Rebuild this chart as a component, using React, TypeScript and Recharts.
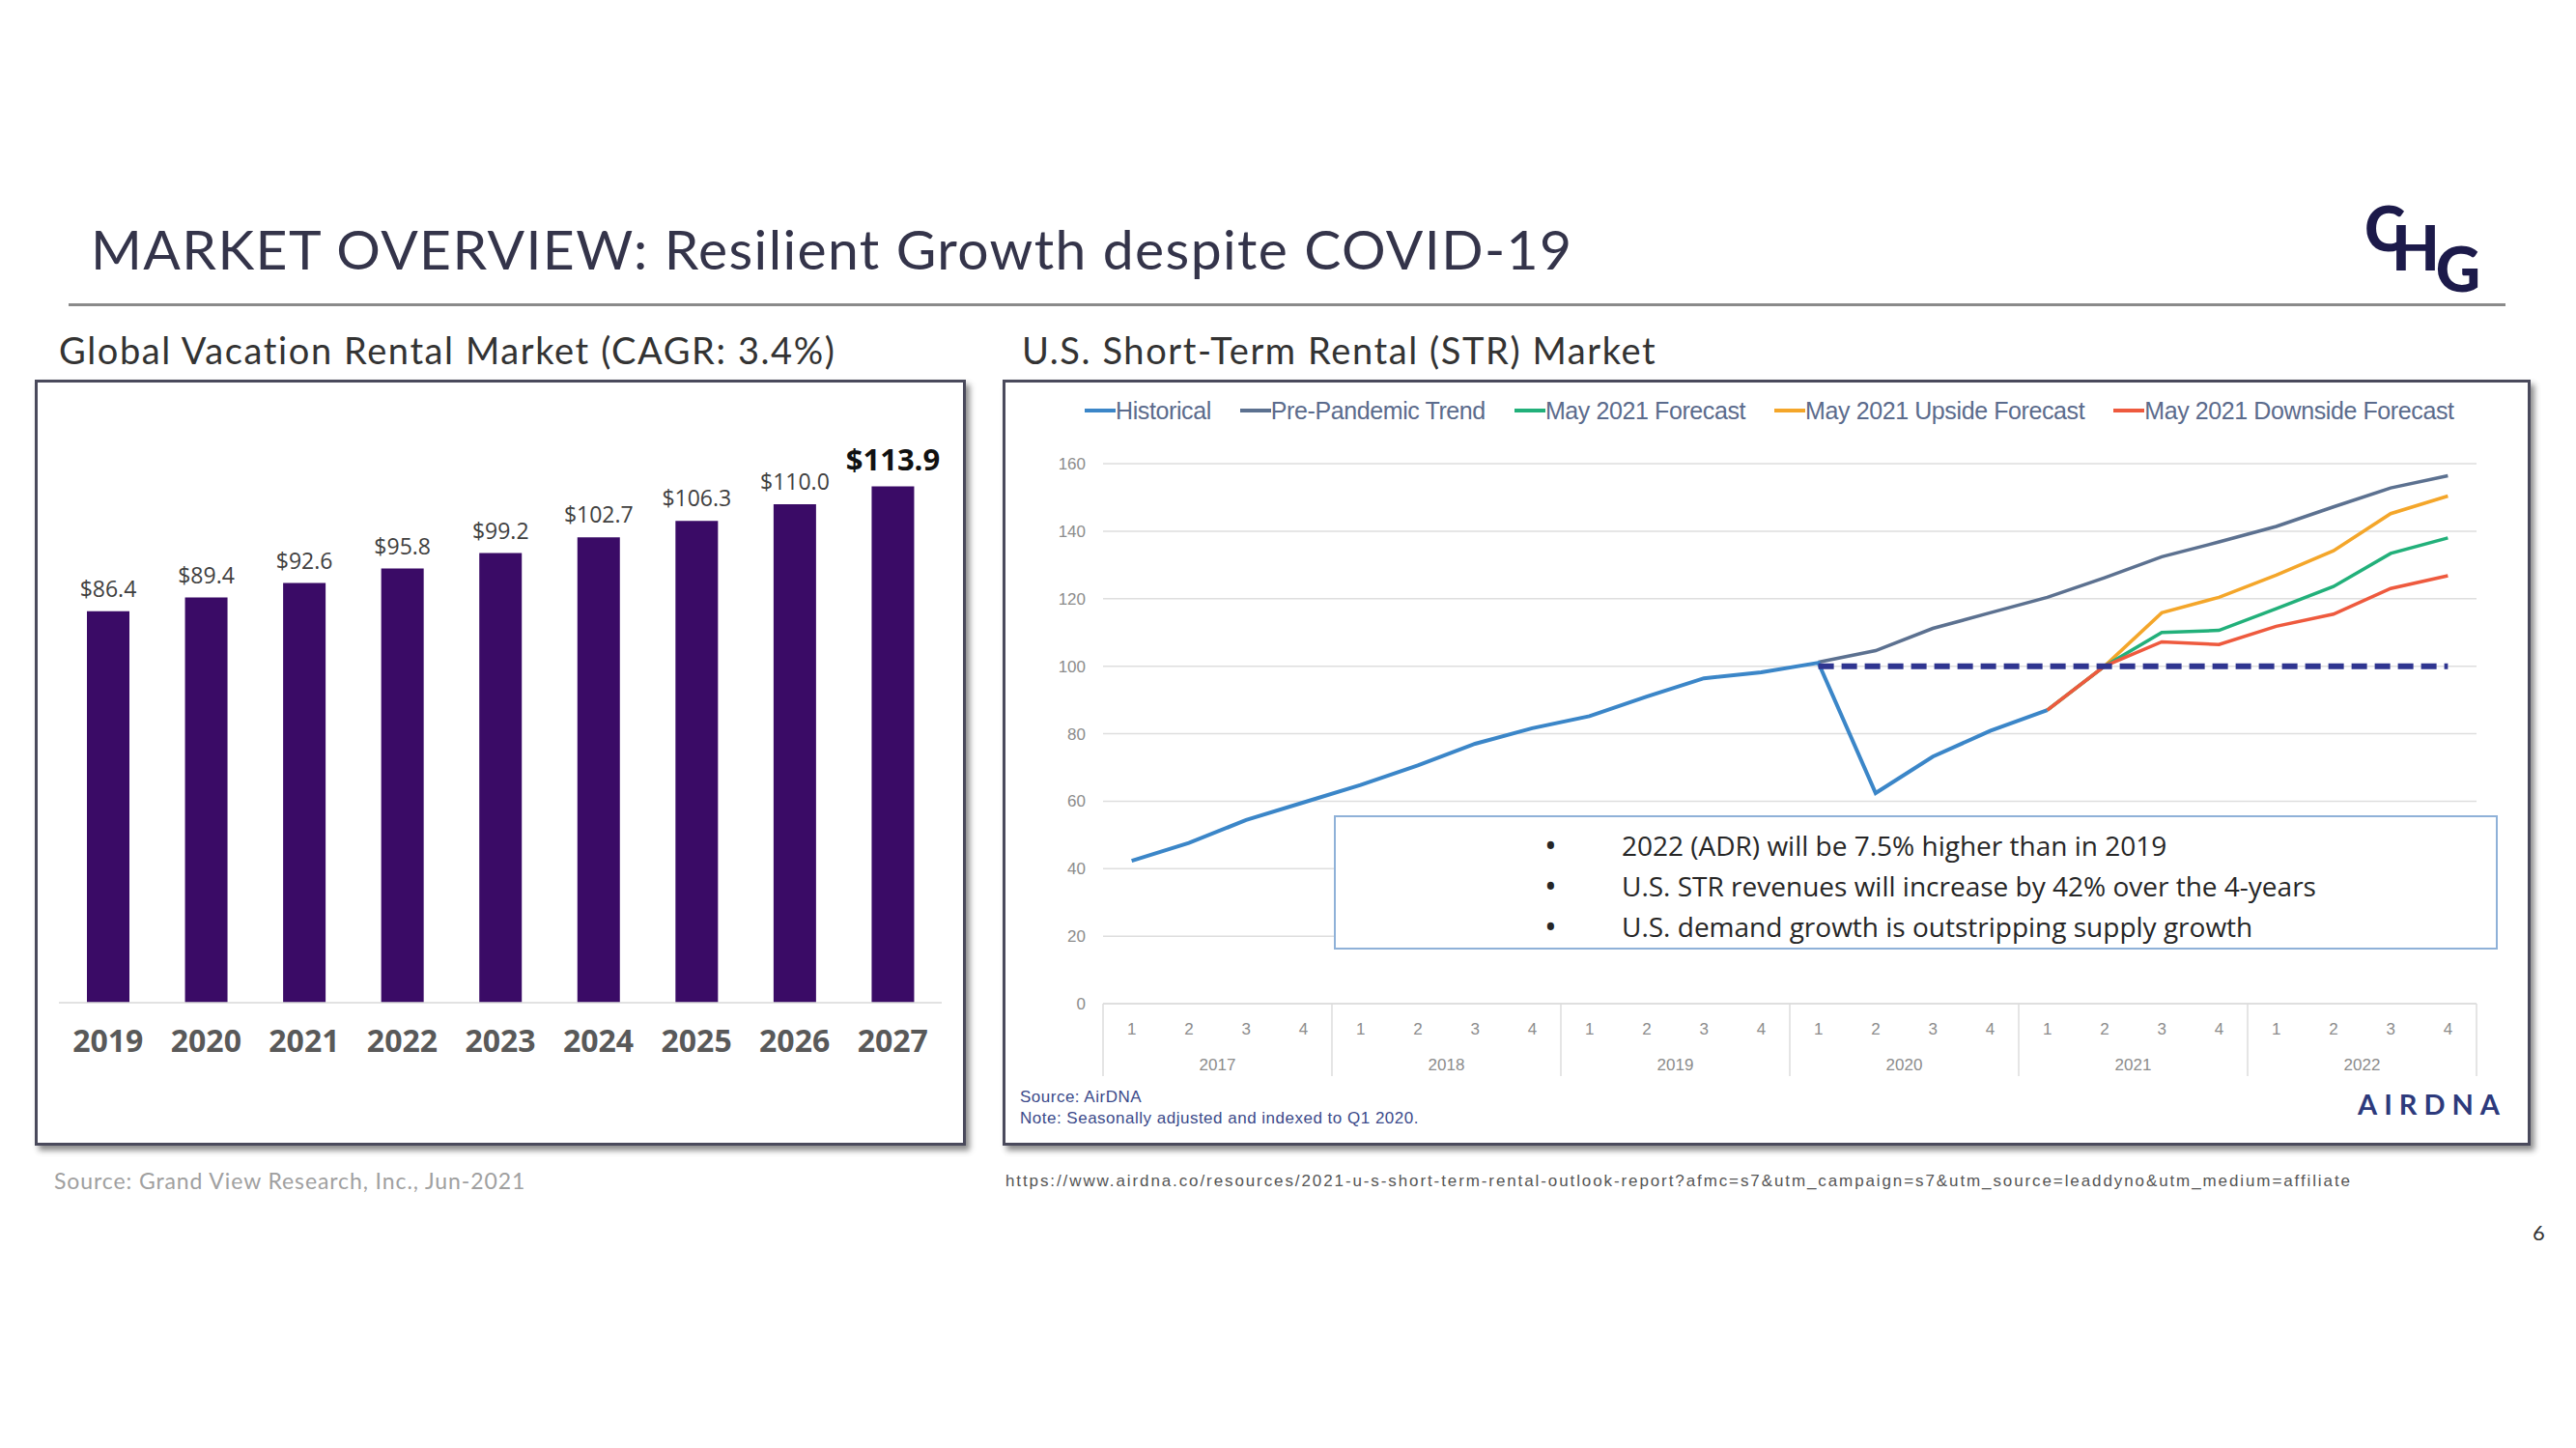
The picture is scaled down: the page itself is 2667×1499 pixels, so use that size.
import React from "react";
import {
  BarChart,
  Bar,
  XAxis,
  YAxis,
  LabelList,
  LineChart,
  Line,
  CartesianGrid,
  ReferenceLine,
} from "recharts";

// left chart: global vacation rental market ($bn)
const barYears = ["2019", "2020", "2021", "2022", "2023", "2024", "2025", "2026", "2027"];
const marketSize = [86.4, 89.4, 92.6, 95.8, 99.2, 102.7, 106.3, 110.0, 113.9];

// right chart: US STR index (Q1 2020 = 100)
const strYears = ["2017", "2018", "2019", "2020", "2021", "2022"];
const quarterNums = ["1", "2", "3", "4"];
const historical = [
  42.3, 47.6, 54.4, 59.6, 64.8, 70.6, 77.0, 81.6, 85.2, 91.0, 96.4, 98.2,
  101.0, 62.4, 73.2, 80.8, 87.0, null, null, null, null, null, null, null,
];
const prePandemic = [
  null, null, null, null, null, null, null, null, null, null, null, null,
  101.2, 104.6, 111.2, 115.8, 120.4, 126.2, 132.4, 136.8, 141.4, 147.2, 152.8, 156.4,
];
const mayForecast = [
  null, null, null, null, null, null, null, null, null, null, null, null,
  null, null, null, null, 87.0, 100.0, 110.0, 110.6, 117.0, 123.6, 133.4, 138.0,
];
const upsideForecast = [
  null, null, null, null, null, null, null, null, null, null, null, null,
  null, null, null, null, 87.0, 100.0, 115.8, 120.4, 127.0, 134.2, 145.2, 150.4,
];
const downsideForecast = [
  null, null, null, null, null, null, null, null, null, null, null, null,
  null, null, null, null, 87.0, 100.0, 107.2, 106.4, 111.8, 115.4, 123.0, 126.8,
];
const yTicks = [0, 20, 40, 60, 80, 100, 120, 140, 160];
const baselineIndex = 100;

const bullets = [
  "2022 (ADR) will be 7.5% higher than in 2019",
  "U.S. STR revenues will increase by 42% over the 4-years",
  "U.S. demand growth is outstripping supply growth",
];

const strSeries = [
  { key: "historical", name: "Historical", color: "#3b86c8", values: historical },
  { key: "prePandemic", name: "Pre-Pandemic Trend", color: "#5c7190", values: prePandemic },
  { key: "mayForecast", name: "May 2021 Forecast", color: "#22b07a", values: mayForecast },
  { key: "upside", name: "May 2021 Upside Forecast", color: "#f4a62a", values: upsideForecast },
  { key: "downside", name: "May 2021 Downside Forecast", color: "#ee5a3e", values: downsideForecast },
];
// draw order so the red downside sits on top where the forecasts overlap
const drawOrder = ["prePandemic", "historical", "upside", "mayForecast", "downside"];

const barData = barYears.map((year, i) => ({ year, value: marketSize[i] }));

const strData = strYears.flatMap((yr, yi) =>
  quarterNums.map((q, qi) => {
    const i = yi * 4 + qi;
    // eslint-disable-next-line @typescript-eslint/no-explicit-any
    const row: any = { period: `${yr} Q${q}`, year: yr };
    strSeries.forEach((s) => (row[s.key] = s.values[i]));
    return row;
  })
);

// right chart geometry
const LC_W = 1560;
const LC_H = 760;
const LC_MARGIN = { top: 80, right: 41, left: 37, bottom: 36 };
const Y_AXIS_W = 60;
const PLOT_W = LC_W - LC_MARGIN.left - LC_MARGIN.right - Y_AXIS_W;
const YEAR_BAND = PLOT_W / strYears.length;
const Q_HALF = PLOT_W / strData.length / 2; // half a quarter slot, line charts use point scale

// eslint-disable-next-line @typescript-eslint/no-explicit-any
function BarValueLabel(props: any) {
  const { x, y, width, value } = props;
  const isLast = value === marketSize[marketSize.length - 1];
  return (
    <text
      x={x + width / 2}
      y={y - (isLast ? 17 : 15)}
      textAnchor="middle"
      fontFamily="Open Sans"
      fontSize={isLast ? 31 : 23}
      fontWeight={isLast ? 700 : 400}
      fill={isLast ? "#111" : "#404040"}
    >
      {`$${Number(value).toFixed(1)}`}
    </text>
  );
}

// year labels + separators under the quarter row
// eslint-disable-next-line @typescript-eslint/no-explicit-any
function YearTick(props: any) {
  const { x, y, payload, index } = props;
  const half = YEAR_BAND / 2;
  return (
    <g>
      <line x1={x - half} x2={x - half} y1={y - 48} y2={y + 27} stroke="#dcdcdc" strokeWidth={1.5} />
      {index === strYears.length - 1 && (
        <line x1={x + half} x2={x + half} y1={y - 48} y2={y + 27} stroke="#dcdcdc" strokeWidth={1.5} />
      )}
      <text
        x={x}
        y={y + 15}
        textAnchor="middle"
        dominantBaseline="central"
        fontFamily="Liberation Sans"
        fontSize={17}
        fill="#8c8c8c"
      >
        {payload.value}
      </text>
    </g>
  );
}

const frame: React.CSSProperties = {
  position: "absolute",
  top: 393,
  height: 793,
  boxSizing: "border-box",
  border: "3px solid #4a4a5c",
  boxShadow: "4px 5px 6px rgba(0,0,0,0.45)",
  background: "#fff",
};

export default function App() {
  return (
    <div
      style={{
        position: "relative",
        width: 2667,
        height: 1499,
        background: "#fff",
        fontFamily: "Lato",
        overflow: "hidden",
      }}
    >
      <style>{"body{margin:0}"}</style>

      {/* header */}
      <div style={{ position: "absolute", left: 94, top: 229, fontSize: 57, letterSpacing: 1.4, lineHeight: 1, color: "#34344a", whiteSpace: "nowrap" }}>
        MARKET OVERVIEW: Resilient Growth despite COVID-19
      </div>
      {/* CHG monogram */}
      <svg style={{ position: "absolute", left: 2430, top: 190, overflow: "visible" }} width={180} height={130}>
        <text x={18} y={70} fontFamily="Lato" fontWeight={900} fontSize={64} fill="#1c1a4a">
          C<tspan dx={-14} dy={20}>H</tspan><tspan dx={-4} dy={22}>G</tspan>
        </text>
      </svg>
      <div style={{ position: "absolute", left: 71, top: 314, width: 2523, height: 3, background: "#8a8a8a" }} />

      <div style={{ position: "absolute", left: 61, top: 343, fontSize: 38, letterSpacing: 1.6, lineHeight: 1, color: "#333", whiteSpace: "nowrap" }}>
        Global Vacation Rental Market (CAGR: 3.4%)
      </div>
      <div style={{ position: "absolute", left: 1058, top: 343, fontSize: 38, letterSpacing: 1.6, lineHeight: 1, color: "#333", whiteSpace: "nowrap" }}>
        U.S. Short-Term Rental (STR) Market
      </div>

      {/* left panel */}
      <div style={{ ...frame, left: 36, width: 964 }} />
      <div style={{ position: "absolute", left: 40, top: 400 }}>
        <BarChart
          width={950}
          height={720}
          data={barData}
          margin={{ top: 75, right: 15, left: 21, bottom: 20 }}
          barSize={44}
        >
          <YAxis hide domain={[0, 120]} />
          <XAxis
            dataKey="year"
            axisLine={{ stroke: "#d9d9d9", strokeWidth: 1.5 }}
            tickLine={false}
            height={62}
            tickMargin={22}
            tick={{ fontFamily: "Open Sans", fontSize: 32, fontWeight: 700, fill: "#595959" }}
          />
          <Bar dataKey="value" fill="#3a0b66" isAnimationActive={false}>
            <LabelList dataKey="value" content={<BarValueLabel />} />
          </Bar>
        </BarChart>
      </div>
      <div style={{ position: "absolute", left: 56, top: 1211, fontSize: 23, letterSpacing: 0.9, lineHeight: 1, color: "#a0a0a0", whiteSpace: "nowrap" }}>
        Source: Grand View Research, Inc., Jun-2021
      </div>

      {/* right panel */}
      <div style={{ ...frame, left: 1038, width: 1582 }} />

      {/* legend */}
      <div
        style={{
          position: "absolute",
          left: 1123,
          top: 411,
          display: "flex",
          gap: 30,
          fontFamily: "Liberation Sans",
          fontSize: 25,
          lineHeight: "28px",
          color: "#5b6b8c",
          whiteSpace: "nowrap",
        }}
      >
        {strSeries.map((s) => (
          <div key={s.key} style={{ display: "flex", alignItems: "center" }}>
            <span style={{ display: "inline-block", width: 32, height: 4, background: s.color }} />
            <span style={{ letterSpacing: -0.4 }}>{s.name}</span>
          </div>
        ))}
      </div>

      <div style={{ position: "absolute", left: 1045, top: 400 }}>
        <LineChart width={LC_W} height={LC_H} data={strData} margin={LC_MARGIN}>
          <CartesianGrid vertical={false} stroke="#dedede" strokeWidth={1.5} />
          <YAxis
            width={Y_AXIS_W}
            domain={[0, 160]}
            ticks={yTicks}
            axisLine={false}
            tickLine={false}
            tickMargin={12}
            tick={{ fontFamily: "Liberation Sans", fontSize: 17, fill: "#8c8c8c" }}
          />
          <XAxis
            dataKey="period"
            interval={0}
            height={40}
            padding={{ left: Q_HALF, right: Q_HALF }}
            axisLine={{ stroke: "#dcdcdc", strokeWidth: 1.5 }}
            tickLine={false}
            tickMargin={14}
            tickFormatter={(p: string) => p.split(" Q")[1]}
            tick={{ fontFamily: "Liberation Sans", fontSize: 17, fill: "#8c8c8c" }}
          />
          <XAxis
            xAxisId="yr"
            dataKey="year"
            allowDuplicatedCategory={false}
            interval={0}
            height={45}
            padding={{ left: YEAR_BAND / 2, right: YEAR_BAND / 2 }}
            axisLine={false}
            tickLine={false}
            tick={<YearTick />}
          />
          {drawOrder.map((key) => {
            const s = strSeries.find((x) => x.key === key)!;
            return (
              <Line
                key={key}
                type="linear"
                dataKey={key}
                stroke={s.color}
                strokeWidth={key === "historical" ? 4 : 3.5}
                dot={false}
                activeDot={false}
                connectNulls={false}
                isAnimationActive={false}
              />
            );
          })}
          <ReferenceLine
            segment={[
              { x: "2020 Q1", y: baselineIndex },
              { x: "2022 Q4", y: baselineIndex },
            ]}
            stroke="#2f3590"
            strokeWidth={6}
            strokeDasharray="16 8"
          />
        </LineChart>
      </div>

      {/* callout */}
      <div
        style={{
          position: "absolute",
          left: 1381,
          top: 844,
          width: 1205,
          height: 139,
          boxSizing: "border-box",
          border: "2px solid #8fb1d8",
          background: "#fff",
          paddingTop: 8,
          fontFamily: "Open Sans",
        }}
      >
        {bullets.map((b) => (
          <div key={b} style={{ position: "relative", height: 42, fontSize: 28, lineHeight: "42px", color: "#262626", whiteSpace: "nowrap" }}>
            <span style={{ position: "absolute", left: 216, fontSize: 34 }}>•</span>
            <span style={{ position: "absolute", left: 296 }}>{b}</span>
          </div>
        ))}
      </div>

      <div style={{ position: "absolute", left: 1056, top: 1125, fontFamily: "Liberation Sans", fontSize: 17, letterSpacing: 0.5, lineHeight: "22px", color: "#3b4a8a", whiteSpace: "nowrap" }}>
        <div>Source: AirDNA</div>
        <div>Note: Seasonally adjusted and indexed to Q1 2020.</div>
      </div>
      <div style={{ position: "absolute", left: 2441, top: 1128, fontFamily: "Lato", fontSize: 29, fontWeight: 700, letterSpacing: 7, lineHeight: 1, color: "#2d3a7c" }}>
        AIRDNA
      </div>

      <div style={{ position: "absolute", left: 1041, top: 1214, fontFamily: "Liberation Sans", fontSize: 17, lineHeight: 1, color: "#555", whiteSpace: "nowrap", letterSpacing: 1.9 }}>
        https://www.airdna.co/resources/2021-u-s-short-term-rental-outlook-report?afmc=s7&amp;utm_campaign=s7&amp;utm_source=leaddyno&amp;utm_medium=affiliate
      </div>
      <div style={{ position: "absolute", left: 2622, top: 1265, fontSize: 22, lineHeight: 1, color: "#333" }}>6</div>
    </div>
  );
}
